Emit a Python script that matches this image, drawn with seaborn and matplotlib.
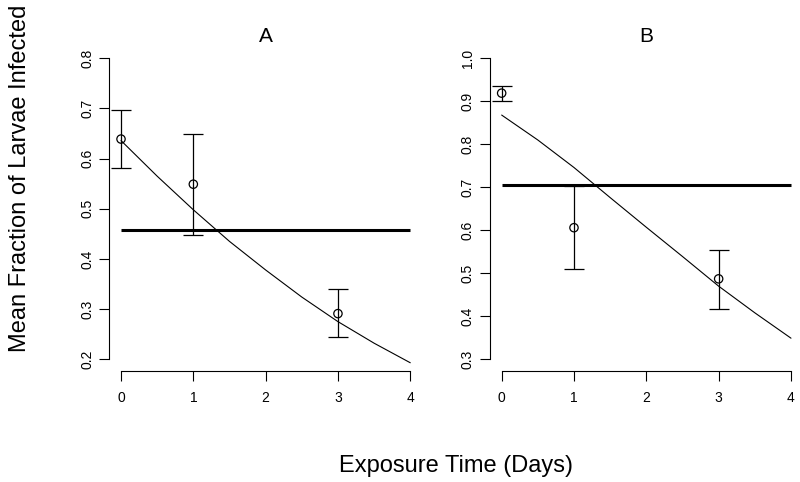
import matplotlib
matplotlib.use("Agg")
import matplotlib.pyplot as plt
import seaborn as sns
import pandas as pd

# observed means with error bars (exposure time in days)
days = [0, 1, 3]
a_mean = [0.639, 0.549, 0.291]
a_low = [0.582, 0.447, 0.245]
a_high = [0.696, 0.650, 0.340]
b_mean = [0.919, 0.606, 0.487]
b_low = [0.900, 0.509, 0.418]
b_high = [0.936, 0.703, 0.555]

# null model (constant) fraction
a_null = 0.457
b_null = 0.705

# fitted curves
curve_days = [0, 0.5, 1, 1.5, 2, 2.5, 3, 3.5, 4]
a_curve = [0.636, 0.565, 0.498, 0.435, 0.378, 0.324, 0.275, 0.232, 0.193]
b_curve = [0.868, 0.810, 0.746, 0.676, 0.607, 0.539, 0.470, 0.408, 0.349]

sns.set_style("ticks")
plt.rcParams['font.family'] = ['Liberation Sans', 'DejaVu Sans']
plt.rcParams['text.color'] = 'black'
plt.rcParams['xtick.color'] = 'black'
plt.rcParams['ytick.color'] = 'black'

fig = plt.figure(figsize=(8, 4.82), dpi=100)
ax_a = fig.add_axes([0.1368, 0.2297, 0.3905, 0.6743])
ax_b = fig.add_axes([0.6126, 0.2297, 0.3906, 0.6743])

panels = [
    (ax_a, "A", a_mean, a_low, a_high, a_null, a_curve, [0.2, 0.3, 0.4, 0.5, 0.6, 0.7, 0.8]),
    (ax_b, "B", b_mean, b_low, b_high, b_null, b_curve, [0.3, 0.4, 0.5, 0.6, 0.7, 0.8, 0.9, 1.0]),
]

for ax, title, mean, low, high, null, curve, yticks in panels:
    obs = pd.DataFrame({'day': days, 'mean': mean})
    fit = pd.DataFrame({'day': curve_days, 'frac': curve})

    # fitted decline
    sns.lineplot(data=fit, x='day', y='frac', color='black', linewidth=0.8, ax=ax)
    # constant model
    ax.hlines(null, curve_days[0], curve_days[-1], color='black', linewidth=2.2)
    # error bars
    yerr = [[m - l for m, l in zip(mean, low)], [h - m for h, m in zip(high, mean)]]
    ax.errorbar(days, mean, yerr=yerr, fmt='none', ecolor='black', elinewidth=0.9,
                capsize=7.4, capthick=0.9)
    sns.scatterplot(data=obs, x='day', y='mean', marker='o', s=36, facecolor='none',
                    edgecolor='black', linewidth=0.9, ax=ax, zorder=5)

    ax.set_xlim(-0.16, 4.16)
    pad = (yticks[-1] - yticks[0]) * 0.04
    ax.set_ylim(yticks[0] - pad, yticks[-1] + pad)
    ax.set_xticks([0, 1, 2, 3, 4])
    ax.set_yticks(yticks)
    ax.set_yticklabels([f"{v:.1f}" for v in yticks], rotation=90, va='center')
    ax.set_xlabel("")
    ax.set_ylabel("")
    ax.set_title(title, fontsize=15, pad=1.5, color='black')

    for side in ['top', 'right']:
        ax.spines[side].set_visible(False)
    ax.spines['left'].set_bounds(yticks[0], yticks[-1])
    ax.spines['bottom'].set_bounds(0, 4)
    for side in ['left', 'bottom']:
        ax.spines[side].set_linewidth(0.8)
        ax.spines[side].set_color('black')
    ax.tick_params(axis='both', direction='out', length=7, width=0.8, colors='black',
                   labelsize=10)
    ax.tick_params(axis='x', pad=7)
    ax.tick_params(axis='y', pad=4)
    ax.set_facecolor('white')

fig.text(20 / 800, 1 - 178 / 482, "Mean Fraction of Larvae Infected", rotation=90,
         ha='center', va='center', fontsize=17, color='black')
fig.text(456 / 800, 1 - 466 / 482, "Exposure Time (Days)", ha='center', va='center',
         fontsize=17, color='black')

fig.savefig("out.png", dpi=100, facecolor='white')
